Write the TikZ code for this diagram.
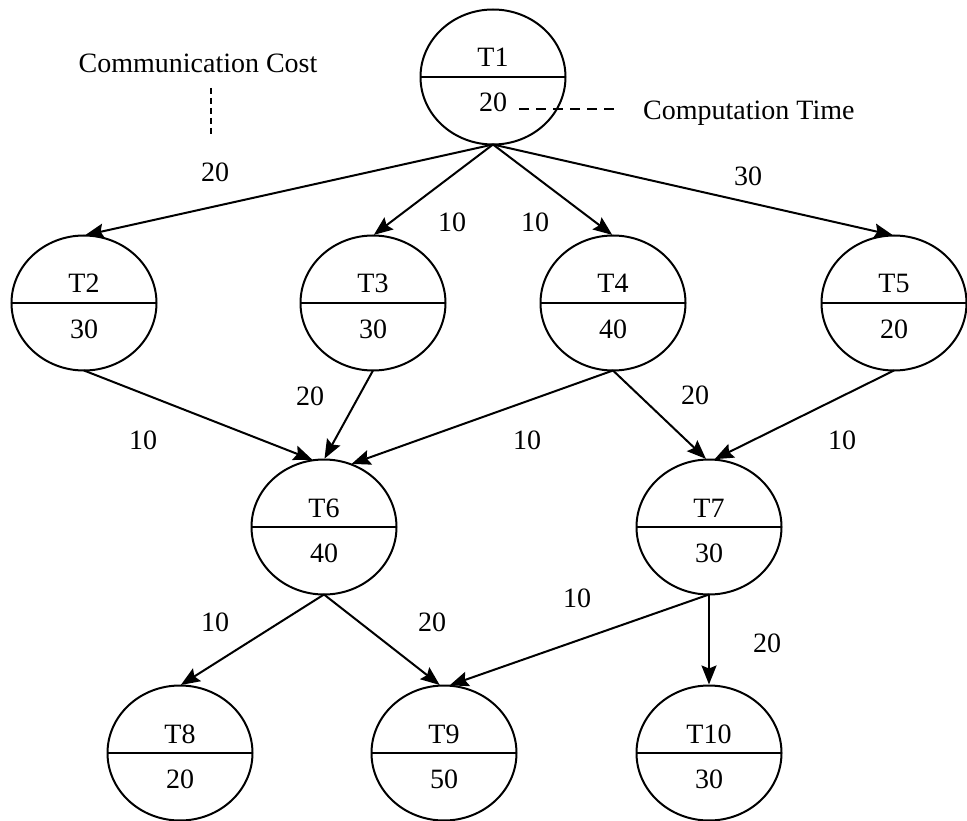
\documentclass[tikz,border=0pt]{standalone}
\usepackage{fontspec}
\setmainfont{Liberation Serif}
\usetikzlibrary{shapes.geometric,arrows.meta}

% one task: ellipse split by a line, name above, computation time below
\newcommand\tasknode[5]{%
  \node[task] (#1) at (#2,#3) {};
  \draw[divider] (#1.west) -- (#1.east);
  \node[lbl,anchor=base] (#1n) at ([yshift=10pt]#1.center) {#4};
  \node[lbl,anchor=base] (#1t) at ([yshift=-35pt]#1.center) {#5};}

\begin{document}
\begin{tikzpicture}[x=1pt,y=-1pt,
  task/.style={ellipse,draw,line width=2pt,minimum width=145pt,minimum height=135pt,inner sep=0pt,outer sep=0pt},
  divider/.style={line width=2pt},
  lbl/.style={font=\fontsize{28}{30}\selectfont,inner sep=0pt},
  flow/.style={line width=2pt,shorten >=1pt,-{Stealth[length=19pt,width=15pt,inset=3pt]}},
  vnote/.style={line width=1.8pt,dash pattern=on 6pt off 4pt},
  hnote/.style={line width=1.8pt,dash pattern=on 10pt off 7pt},
]
\useasboundingbox (0,0) rectangle (967,821);

% tasks
\tasknode{T1}{493}{77}{T1}{20}
\tasknode{T2}{84}{303}{T2}{30}
\tasknode{T3}{373}{303}{T3}{30}
\tasknode{T4}{613}{303}{T4}{40}
\tasknode{T5}{894}{303}{T5}{20}
\tasknode{T6}{324}{527}{T6}{40}
\tasknode{T7}{709}{527}{T7}{30}
\tasknode{T8}{180}{753}{T8}{20}
\tasknode{T9}{444}{753}{T9}{50}
\tasknode{T10}{709}{753}{T10}{30}

% precedence edges
\draw[flow] (T1.south) -- (T2.north);
\draw[flow] (T1.south) -- (T3.north);
\draw[flow] (T1.south) -- (T4.north);
\draw[flow] (T1.south) -- (T5.north);
\draw[flow] (T2.south) -- (T6.99);
\draw[flow] (T3.south) -- (T6.north);
\draw[flow] (T4.south) -- (T6.67);
\draw[flow] (T4.south) -- (T7.92);
\draw[flow] (T5.south) -- (T7.86);
\draw[flow] (T6.south) -- (T8.north);
\draw[flow] (T6.south) -- (T9.93);
\draw[flow] (T7.south) -- (T9.86);
\draw[flow] (T7.south) -- (T10.north);

% communication costs
\node[lbl] (c12) at (215,172) {20};
\node[lbl] (c13) at (452,222) {10};
\node[lbl] (c14) at (535,222) {10};
\node[lbl] (c15) at (748,176) {30};
\node[lbl] (c26) at (143,440) {10};
\node[lbl] (c36) at (310,396) {20};
\node[lbl] (c46) at (527,440) {10};
\node[lbl] (c47) at (695,395) {20};
\node[lbl] (c57) at (842,440) {10};
\node[lbl] (c68) at (215,622) {10};
\node[lbl] (c69) at (432,622) {20};
\node[lbl] (c79) at (577,598) {10};
\node[lbl] (c710) at (767,643) {20};

% legend
\node[lbl,anchor=base] (cc) at (198,73) {Communication Cost};
\coordinate (ccA) at (211,88);
\coordinate (ccB) at (211,136);
\draw[vnote] (ccA) -- (ccB);
\node[lbl,anchor=base west] (ct) at (643,120) {Computation Time};
\coordinate (ctA) at (519,109);
\coordinate (ctB) at (616,109);
\draw[hnote] (ctA) -- (ctB);
\end{tikzpicture}
\end{document}
